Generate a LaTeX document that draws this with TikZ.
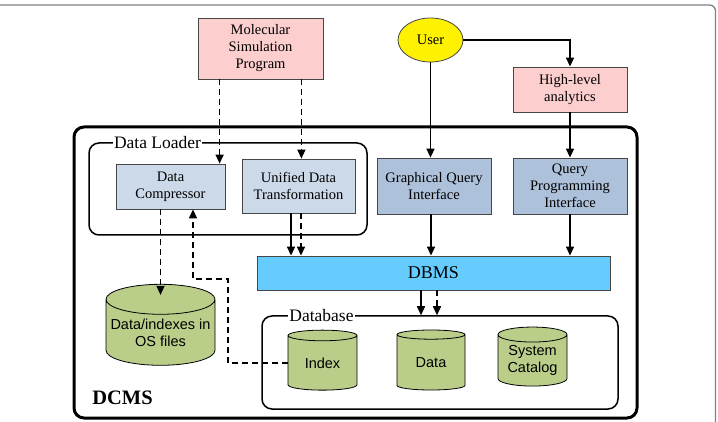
\documentclass[tikz,border=0pt]{standalone}
\usepackage{fontspec}
\setmainfont{Liberation Serif}
\setsansfont{Liberation Sans}
\usepackage{tikz}
\usetikzlibrary{positioning}
\usetikzlibrary{shapes.geometric}
\usetikzlibrary{arrows.meta}
\definecolor{pk}{RGB}{252, 206, 206}
\definecolor{lb}{RGB}{204, 217, 233}
\definecolor{mb}{RGB}{174, 193, 218}
\definecolor{sky}{RGB}{102, 204, 255}
\definecolor{og}{RGB}{186, 206, 138}
\definecolor{ed}{RGB}{70, 70, 70}

\begin{document}
\begin{tikzpicture}[
  every node/.style={inner sep=0pt, align=center, font=\fontsize{14.5}{17}\selectfont},
  pinkbox/.style={rectangle, fill=pk, draw=ed, line width=0.8pt},
  bluebox/.style={rectangle, fill=lb, draw=ed, line width=0.8pt},
  darkbox/.style={rectangle, fill=mb, draw=ed, line width=0.8pt},
  drum/.style={cylinder, shape border rotate=90, aspect=0.3, fill=og, draw=black, line width=0.8pt, font=\sffamily\fontsize{14.5}{17}\selectfont},
  group/.style={rectangle, rounded corners=10pt, draw=black, line width=1.5pt},
  tag/.style={fill=white, inner sep=1pt, font=\fontsize{17.5}{20}\selectfont},
  arr/.style={line width=1.5pt, -{Triangle[width=8pt,length=9pt]}},
  dasharr/.style={arr, dash pattern=on 6pt off 4pt}]
\useasboundingbox (0,0) rectangle (718pt, -422pt);
\draw [line width=1.3pt, color=gray, rounded corners=6pt] (0, -5pt) -- (715.5pt, -5pt) -- (715.5pt, -423pt);

\node (dcms) [group, line width=3pt, minimum width=563pt, minimum height=291pt] at (355.5pt, -272.5pt) {};
\node (dcmslbl) [font=\bfseries\fontsize{20.5}{24}\selectfont] at (122.5pt, -398pt) {DCMS};

\node (msp) [pinkbox, minimum width=125pt, minimum height=61pt] at (260.5pt, -48.5pt) {Molecular\\Simulation\\Program};
\node (user) [ellipse, fill=yellow, draw=ed, line width=0.8pt, minimum width=65pt, minimum height=44pt] at (430.5pt, -40pt) {User};
\node (hla) [pinkbox, minimum width=114pt, minimum height=45pt] at (570pt, -89.5pt) {High-level\\analytics};

\node (loader) [group, minimum width=278pt, minimum height=92pt] at (228pt, -189pt) {};
\node (loaderlbl) [tag] at (157.5pt, -143pt) {Data Loader};
\node (dc) [bluebox, minimum width=109pt, minimum height=45pt] at (170.5pt, -186.5pt) {Data\\Compressor};
\node (udt) [bluebox, minimum width=113pt, minimum height=54pt] at (298.5pt, -186pt) {Unified Data\\Transformation};
\node (gqi) [darkbox, minimum width=114pt, minimum height=56pt] at (434pt, -186pt) {Graphical Query\\Interface};
\node (qpi) [darkbox, minimum width=114pt, minimum height=56pt] at (570pt, -186pt) {Query\\Programming\\Interface};

\node (dbms) [rectangle, fill=sky, draw=ed, line width=0.8pt, minimum width=353pt, minimum height=34pt, font=\fontsize{18}{20}\selectfont] at (433.5pt, -273pt) {DBMS};

\node (dbase) [group, minimum width=356pt, minimum height=93pt] at (440pt, -362.5pt) {};
\node (dbaselbl) [tag] at (321.5pt, -316pt) {Database};
\node (idx) [drum, minimum width=69pt, minimum height=60pt] at (322.5pt, -363pt) {Index};
\node (data) [drum, minimum width=68pt, minimum height=60pt] at (431pt, -362.5pt) {Data};
\node (cat) [drum, minimum width=69pt, minimum height=59pt] at (532.5pt, -360.5pt) {System\\Catalog};
\node (osf) [drum, minimum width=109pt, minimum height=81pt] at (160.5pt, -332.5pt) {Data/indexes in\\OS files};

\draw [dasharr] ([xshift=22pt]msp.south west) -- ([xshift=22pt]msp.south west |- dc.north);
\draw [dasharr] ([xshift=-22pt]msp.south east) -- ([xshift=-22pt]msp.south east |- udt.north);
\draw [arr] (user.east) -| (hla.north);
\draw [arr] (user.south) -- (user.south |- gqi.north);
\draw [arr] (hla) -- (qpi);
\draw [arr] ([xshift=-7.5pt]udt.south) -- ([xshift=-7.5pt]udt.south |- dbms.north);
\draw [dasharr] ([xshift=2.5pt]udt.south) -- ([xshift=2.5pt]udt.south |- dbms.north);
\draw [arr] ([xshift=-3pt]gqi.south) -- ([xshift=-3pt]gqi.south |- dbms.north);
\draw [arr] (qpi) -- (qpi |- dbms.north);
\draw [arr] ([xshift=-12.5pt]dbms.south) -- ([xshift=-12.5pt]dbms.south |- dbase.north);
\draw [dasharr] ([xshift=3.5pt]dbms.south) -- ([xshift=3.5pt]dbms.south |- dbase.north);
\draw [dasharr] (dc.south -| osf.north) -- ([yshift=-11pt]osf.north);
\coordinate (bend) at (228pt, -279pt);
\draw [dasharr] (idx.west) -| (bend) -| ([xshift=22.5pt]dc.south);
\end{tikzpicture}
\end{document}
